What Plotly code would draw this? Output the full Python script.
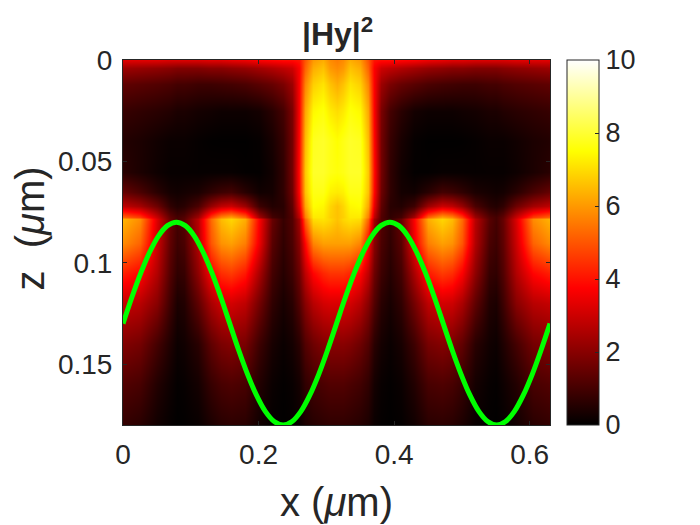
import plotly.graph_objects as go

x_left = [0, .025, .05, .07, .08, .09, .11, .13, .145, .16, .18, .20, .22, .236, .25, .26, .268, .28, .295, .305, .315]
z_rows = [0, .004, .012, .025, .04, .055, .065, .072, .0775, .0785, .09, .105, .12, .14, .16, .18]
field_left = [
    [3.3, 3.3, 3.3, 3.2, 3.2, 3.2, 3.2, 3.3, 3.3, 3.4, 3.5, 3.7, 3.8, 3.9, 3.9, 4.0, 5.0, 6.0, 6.3, 5.8, 5.6],
    [2.3, 2.2, 2.1, 2.0, 1.9, 1.9, 1.9, 2.0, 2.0, 2.1, 2.2, 2.4, 2.6, 2.8, 3.0, 3.7, 5.2, 6.3, 6.6, 6.0, 5.8],
    [1.4, 1.3, 1.2, 1.1, 1.0, 1.0, .9, .9, .95, 1.0, 1.1, 1.3, 1.5, 1.8, 2.3, 3.7, 5.7, 6.8, 7.1, 6.6, 6.3],
    [.8, .7, .6, .5, .4, .4, .3, .25, .2, .2, .2, .3, .6, 1.0, 1.8, 3.7, 6.2, 7.4, 7.6, 7.2, 7.0],
    [.5, .4, .25, .15, .15, .15, .08, .03, .02, .02, .02, .08, .35, .8, 1.7, 3.8, 6.5, 7.8, 7.9, 7.7, 7.5],
    [.6, .4, .2, .1, .1, .1, .08, .1, .1, .1, .05, .05, .25, .7, 1.7, 3.9, 6.7, 7.9, 7.9, 7.7, 7.6],
    [1.5, 1.1, .6, .3, .25, .3, .4, .7, .9, 1.0, .6, .25, .3, .7, 1.6, 3.8, 6.6, 7.7, 7.7, 7.3, 7.2],
    [2.8, 2.4, 1.6, .7, .5, .6, 1.1, 2.2, 2.8, 3.0, 2.3, .9, .5, .6, 1.4, 3.4, 6.2, 7.5, 7.4, 6.9, 6.6],
    [5.2, 4.6, 2.9, 1.4, 1.0, 1.2, 2.3, 4.6, 5.7, 6.1, 5.2, 2.4, 1.0, .7, 1.2, 2.8, 5.6, 7.2, 7.2, 6.8, 6.6],
    [6.4, 5.8, 3.2, 1.5, 1.0, 1.3, 2.7, 5.3, 6.5, 6.9, 6.3, 3.7, 1.5, .8, 1.2, 2.4, 5.2, 7.0, 7.1, 6.9, 6.6],
    [5.8, 5.2, 3.0, 1.4, .9, 1.1, 2.6, 5.0, 5.9, 6.1, 5.6, 3.5, 1.3, .7, 1.1, 2.0, 3.8, 5.7, 6.1, 6.1, 6.1],
    [4.2, 3.8, 2.6, 1.2, .7, .8, 2.1, 3.7, 4.4, 4.6, 4.1, 2.5, 1.0, .55, .9, 1.6, 2.8, 3.8, 4.3, 4.5, 4.5],
    [2.9, 2.7, 2.0, .9, .4, .5, 1.4, 2.5, 3.0, 3.1, 2.8, 1.7, .7, .35, .6, 1.2, 2.0, 2.7, 3.1, 3.2, 3.2],
    [1.9, 1.7, 1.0, .45, .18, .25, .6, 1.4, 1.8, 1.95, 1.75, .9, .35, .15, .3, .6, 1.2, 1.6, 1.9, 2.0, 2.0],
    [1.2, 1.05, .5, .2, .06, .1, .3, .8, 1.05, 1.15, 1.05, .5, .15, .05, .12, .3, .7, .95, 1.1, 1.2, 1.2],
    [.75, .6, .25, .08, .02, .04, .12, .4, .58, .65, .6, .25, .06, .02, .06, .15, .4, .55, .65, .7, .7],
]
curve_x = [0, .0131, .0263, .0394, .0525, .0656, .0788, .0919, .105, .1181, .1313, .1444, .1575, .1706, .1838, .1969, .21, .2231, .2363,
           .2494, .2625, .2756, .2888, .3019, .315, .3281, .3413, .3544, .3675, .3806, .3938, .4069, .42, .4331, .4463, .4594, .4725,
           .4856, .4988, .5119, .525, .5381, .5513, .5644, .5775, .5906, .6038, .6169, .63]
curve_z = [.13, .117, .105, .0947, .0867, .0817, .08, .0817, .0867, .0947, .105, .117, .13, .143, .155, .1653, .1733, .1783, .18,
           .1783, .1733, .1653, .155, .143, .13, .117, .105, .0947, .0867, .0817, .08, .0817, .0867, .0947, .105, .117, .13,
           .143, .155, .1653, .1733, .1783, .18, .1783, .1733, .1653, .155, .143, .13]
stub_x = [.228, .244, None, .457, .487, None, .543, .558]
stub_z = [.1808, .1808, None, .1808, .1808, None, .1808, .1808]
x_ticks = [0, .2, .4, .6]
x_labels = ["0", "0.2", "0.4", "0.6"]
z_ticks = [0, .05, .1, .15]
z_labels = ["0", "0.05", "0.1", "0.15"]
cb_ticks = [0, 2, 4, 6, 8, 10]

x_full = x_left + [round(.63 - v, 4) for v in x_left[-2::-1]]
field = [row + row[-2::-1] for row in field_left]

INK = "#262626"
FONT = "Liberation Sans, Arial, sans-serif"
hot = [[0, "#000000"], [.375, "#ff0000"], [.75, "#ffff00"], [1, "#ffffff"]]

fig = go.Figure()
fig.add_trace(go.Heatmap(
    x=x_full, y=z_rows, z=field, zmin=0, zmax=10, zsmooth="best", colorscale=hot,
    hoverinfo="skip",
    colorbar=dict(x=1.0393, xanchor="left", xref="paper", y=0, yanchor="bottom", yref="paper", len=1, lenmode="fraction",
                  thickness=32, thicknessmode="pixels", xpad=0, ypad=0,
                  outlinecolor=INK, outlinewidth=1, ticks="inside", ticklen=4, tickcolor=INK,
                  tickprefix='<span style="font-size:14px">\u00a0</span>',
                  tickvals=cb_ticks, tickfont=dict(size=27, color=INK, family=FONT)),
))
fig.add_trace(go.Scatter(x=curve_x, y=curve_z, mode="lines", line=dict(color="#00ff00", width=5, shape="spline"),
                         showlegend=False, hoverinfo="skip"))
fig.add_trace(go.Scatter(x=stub_x, y=stub_z, mode="lines", line=dict(color="#00ff00", width=1.5),
                         cliponaxis=False, showlegend=False, hoverinfo="skip"))
axis = dict(showgrid=False, zeroline=False, mirror="ticks", showline=True, linecolor=INK, linewidth=1,
            ticks="inside", ticklen=4, tickcolor=INK, tickfont=dict(size=28, color=INK, family=FONT))
fig.update_layout(
    width=700, height=525, autosize=False, paper_bgcolor="white", plot_bgcolor="white",
    margin=dict(l=115, r=158, t=52, b=108), showlegend=False,
    xaxis=dict(range=[0, .63], tickvals=x_ticks, ticktext=x_labels, ticklabelstandoff=4, **axis),
    yaxis=dict(range=[.18, 0], tickvals=z_ticks, ticktext=z_labels, ticklabelstandoff=4, **axis),
    annotations=[
        dict(text="<b>|Hy|<sup>2</sup></b>", x=.5, y=1, xref="paper", yref="paper", xanchor="center", yanchor="bottom",
             xshift=1, yshift=6, showarrow=False, font=dict(size=32, color=INK, family=FONT)),
        dict(text="x (<i>μ</i>m)", x=.5, y=0, xref="paper", yref="paper", xanchor="center", yanchor="top",
             yshift=-53, showarrow=False, font=dict(size=40, color=INK, family=FONT)),
        dict(text="z  (<i>μ</i>m)", x=0, y=.5, xref="paper", yref="paper", xanchor="center", yanchor="middle", textangle=-90,
             xshift=-94, yshift=14, showarrow=False, font=dict(size=40, color=INK, family=FONT)),
    ],
)
fig.write_html("out.html")
